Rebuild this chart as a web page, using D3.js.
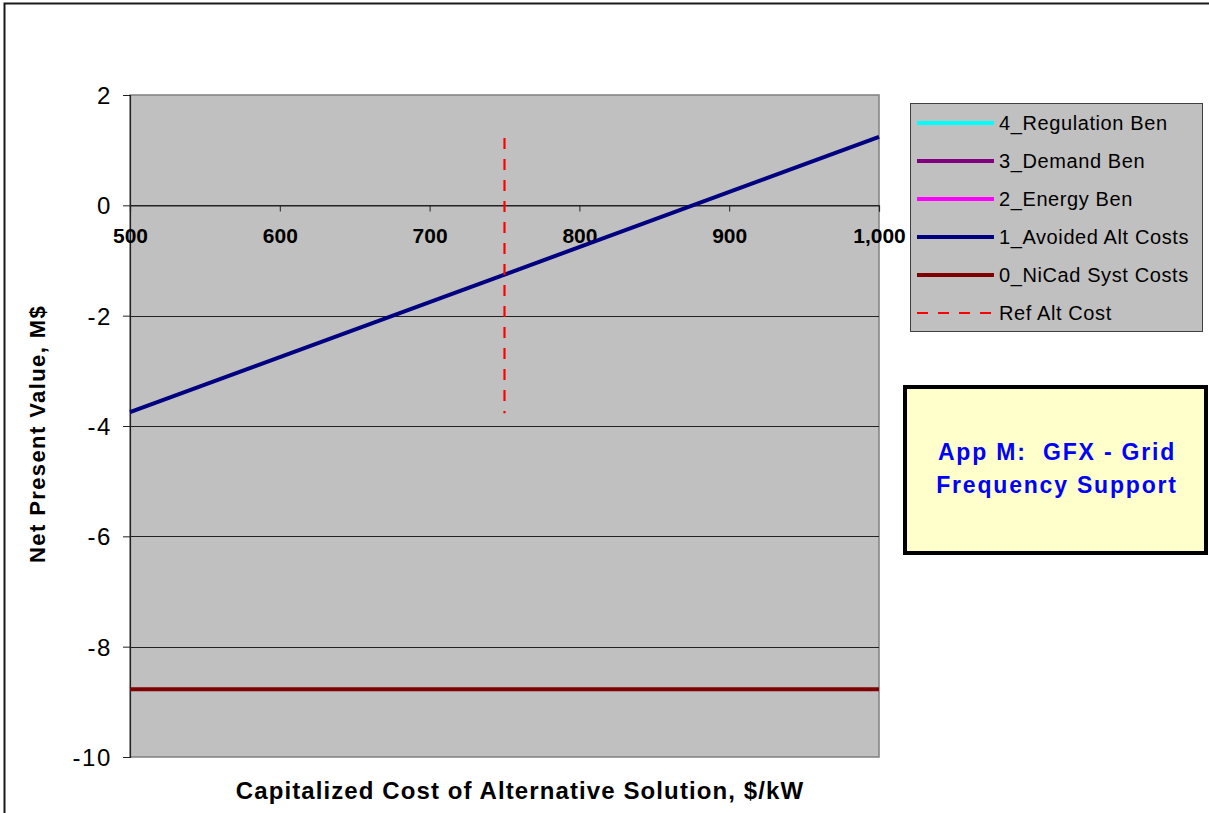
<!DOCTYPE html>
<html>
<head>
<meta charset="utf-8">
<script src="https://cdn.jsdelivr.net/npm/d3@7"></script>
<style>
  body { margin: 0; background: #fff; }
  svg { display: block; font-family: Arial, "Liberation Sans", sans-serif; }
</style>
</head>
<body>
<svg id="chart" width="1209" height="813"></svg>
<script>
// Capitalized cost of the alternative solution, $/kW
const altCost = [500, 1000];
// Net present value of each component, M$
const regulationBen = [null, null];
const demandBen = [null, null];
const energyBen = [null, null];
const avoidedAltCosts = [-3.75, 1.24];
const nicadSystCosts = [-8.77, -8.77];
// Reference alternative cost marker
const refAltCostX = [750, 750];
const refAltCostY = [1.22, -3.77];

const xTicks = [500, 600, 700, 800, 900, 1000];
const yTicks = [2, 0, -2, -4, -6, -8, -10];

const seriesNames = ["4_Regulation Ben", "3_Demand Ben", "2_Energy Ben", "1_Avoided Alt Costs", "0_NiCad Syst Costs", "Ref Alt Cost"];
const seriesColors = ["#00ffff", "#800080", "#ff00ff", "#000080", "#800000", "#ff0000"];
const seriesValues = [regulationBen, demandBen, energyBen, avoidedAltCosts, nicadSystCosts];

const FONT = "Arial, 'Liberation Sans', sans-serif";
const svg = d3.select("#chart");
const plot = { left: 130, top: 95, right: 879, bottom: 757 };

// Outer chart frame
svg.append("rect")
  .attr("x", 4.5).attr("y", 3.5).attr("width", 1300).attr("height", 900)
  .attr("fill", "#fff").attr("stroke", "#1a1a1a").attr("stroke-width", 2);

const x = d3.scaleLinear().domain([500, 1000]).range([plot.left, plot.right]);
const y = d3.scaleLinear().domain([-10, 2]).range([plot.bottom, plot.top]);

// Plot area
svg.append("rect")
  .attr("x", plot.left).attr("y", plot.top)
  .attr("width", plot.right - plot.left).attr("height", plot.bottom - plot.top)
  .attr("fill", "#c0c0c0").attr("stroke", "#808080").attr("stroke-width", 1.5);

// Horizontal gridlines
svg.append("g").selectAll("line")
  .data(yTicks.filter(v => v > -10 && v < 2))
  .join("line")
  .attr("x1", plot.left).attr("x2", plot.right)
  .attr("y1", d => Math.round(y(d)) + 0.5).attr("y2", d => Math.round(y(d)) + 0.5)
  .attr("stroke", "#222").attr("stroke-width", 1.2);

// Y axis
const yAxis = svg.append("g")
  .attr("transform", `translate(${plot.left},0)`)
  .call(d3.axisLeft(y).tickValues(yTicks).tickSize(7).tickPadding(11).tickFormat(d => String(d)));
yAxis.select(".domain").attr("stroke", "#222").attr("stroke-width", 1.2);
yAxis.selectAll(".tick line").attr("stroke", "#222");
yAxis.selectAll(".tick text")
  .attr("font-size", 24).attr("fill", "#000")
  .attr("font-family", FONT)
  .attr("letter-spacing", 1.6)
  .attr("dy", "0.36em");

// X axis crossing at zero
const xAxis = svg.append("g")
  .attr("transform", `translate(0,${Math.round(y(0)) + 0.5})`)
  .call(d3.axisBottom(x).tickValues(xTicks).tickSize(6).tickPadding(17).tickFormat(d3.format(",")));
xAxis.select(".domain").attr("stroke", "#222").attr("stroke-width", 1.2);
xAxis.selectAll(".tick line").attr("stroke", "#222");
xAxis.selectAll(".tick text")
  .attr("font-size", 21).attr("font-weight", "bold").attr("fill", "#000")
  .attr("font-family", FONT);

// Series lines
const line = d3.line()
  .defined(d => d[1] !== null)
  .x(d => x(d[0])).y(d => y(d[1]));

seriesValues.forEach((vals, i) => {
  const pts = altCost.map((c, j) => [c, vals[j]]);
  if (pts.every(p => p[1] === null)) return;
  svg.append("path")
    .datum(pts)
    .attr("d", line)
    .attr("fill", "none")
    .attr("stroke", seriesColors[i])
    .attr("stroke-width", 4);
});

// Reference alternative cost line
svg.append("path")
  .datum(refAltCostX.map((c, j) => [c, refAltCostY[j]]))
  .attr("d", line)
  .attr("fill", "none")
  .attr("stroke", seriesColors[5])
  .attr("stroke-width", 2.2)
  .attr("stroke-dasharray", "11,10");

// Axis titles
svg.append("text")
  .attr("x", 520).attr("y", 799)
  .attr("text-anchor", "middle")
  .attr("font-size", 24).attr("font-weight", "bold")
  .attr("letter-spacing", 1.1)
  .text("Capitalized Cost of Alternative Solution, $/kW");

svg.append("text")
  .attr("transform", "translate(45,434) rotate(-90)")
  .attr("text-anchor", "middle")
  .attr("font-size", 22).attr("font-weight", "bold")
  .attr("letter-spacing", 1.4)
  .text("Net Present Value, M$");

// Legend
const legend = svg.append("g").attr("transform", "translate(910,103)");
legend.append("rect")
  .attr("x", 0.5).attr("y", 0.5).attr("width", 292).attr("height", 228)
  .attr("fill", "#c0c0c0").attr("stroke", "#404040").attr("stroke-width", 1);
seriesNames.forEach((name, i) => {
  const ly = 20 + i * 38;
  legend.append("line")
    .attr("x1", 7).attr("x2", 84).attr("y1", ly).attr("y2", ly)
    .attr("stroke", seriesColors[i])
    .attr("stroke-width", i === 5 ? 2 : 4)
    .attr("stroke-dasharray", i === 5 ? "11,10" : null);
  legend.append("text")
    .attr("x", 89).attr("y", ly).attr("dy", "0.36em")
    .attr("font-size", 20).attr("fill", "#000")
    .attr("letter-spacing", 0.6)
    .text(name);
});

// Annotation box
const note = svg.append("g").attr("transform", "translate(903,385)");
note.append("rect")
  .attr("x", 2).attr("y", 2).attr("width", 301).attr("height", 166)
  .attr("fill", "#ffffcc").attr("stroke", "#000").attr("stroke-width", 4);
note.append("text")
  .attr("x", 154).attr("y", 75)
  .attr("text-anchor", "middle")
  .attr("font-size", 23).attr("font-weight", "bold").attr("fill", "#0000ff")
  .attr("letter-spacing", 1.8)
  .attr("xml:space", "preserve")
  .text("App M:  GFX - Grid");
note.append("text")
  .attr("x", 154).attr("y", 108)
  .attr("text-anchor", "middle")
  .attr("font-size", 23).attr("font-weight", "bold").attr("fill", "#0000ff")
  .attr("letter-spacing", 1.8)
  .text("Frequency Support");
</script>
</body>
</html>
